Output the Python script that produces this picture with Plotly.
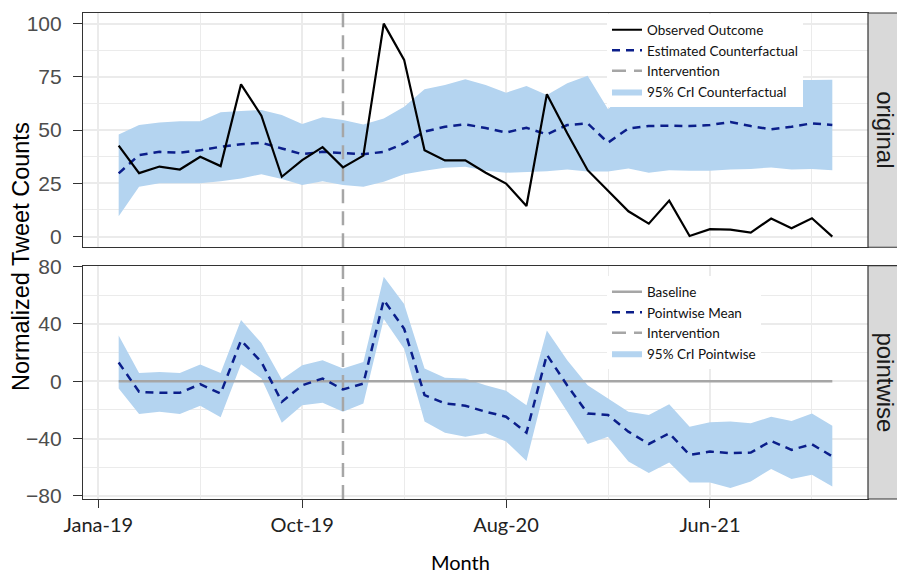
import plotly.graph_objects as go

# ---------------- data ----------------
months = list(range(1, 37))  # month index (0 = Jan 2019 tick)
tick_vals = [0, 10, 20, 30]
tick_text = ["Jana-19", "Oct-19", "Aug-20", "Jun-21"]
intervention = 12

observed = [42.7, 29.8, 32.9, 31.5, 37.5, 33.1, 71.5, 56.8, 28.1, 35.9, 42.0, 32.5,
            38.0, 100.0, 83.0, 40.6, 35.8, 35.8, 30.0, 24.9, 14.4, 66.9, 48.5, 31.2,
            21.5, 11.9, 6.1, 16.9, 0.3, 3.5, 3.3, 1.9, 8.5, 3.9, 8.6, 0.0]
counterfactual = [29.7, 38.3, 39.8, 39.4, 40.5, 42.2, 43.4, 44.1, 41.4, 38.7, 39.8, 39.1,
                  38.7, 39.8, 43.8, 49.3, 51.6, 52.7, 51.0, 48.9, 51.1, 48.0, 52.4, 53.2,
                  44.1, 50.8, 51.9, 52.1, 51.9, 52.4, 53.8, 51.9, 50.4, 51.6, 53.2, 52.4]
cf_upper = [48.0, 52.4, 53.6, 54.2, 54.2, 58.4, 59.0, 59.4, 57.1, 52.9, 56.0, 54.8,
            52.7, 55.5, 61.0, 69.2, 71.2, 73.9, 71.2, 67.6, 70.7, 66.5, 72.0, 75.5,
            59.8, 68.9, 72.0, 72.5, 73.0, 72.5, 73.0, 72.5, 73.0, 73.5, 73.5, 73.6]
cf_lower = [9.6, 23.4, 25.0, 25.0, 25.0, 26.0, 27.3, 29.3, 27.0, 24.2, 26.0, 24.2,
            23.4, 25.7, 29.3, 30.9, 32.3, 32.8, 30.9, 30.0, 30.4, 30.7, 31.5, 30.6,
            30.6, 32.0, 30.0, 31.2, 30.9, 30.9, 31.5, 31.8, 32.5, 31.5, 31.8, 31.2]

pointwise = [13.0, -7.4, -8.1, -8.1, -2.1, -8.6, 28.5, 13.4, -14.4, -2.8, 1.9, -5.8,
             -1.6, 56.7, 36.6, -9.7, -15.5, -17.1, -21.3, -24.8, -35.9, 18.5, -3.0, -22.5,
             -23.6, -35.2, -43.8, -36.3, -51.4, -49.1, -50.2, -49.8, -41.7, -47.9, -44.0, -52.5]
pw_upper = [31.9, 5.8, 6.5, 5.8, 11.6, 5.8, 42.8, 26.6, 1.2, 11.1, 14.6, 8.8,
            13.4, 72.9, 53.9, 8.8, 2.5, 1.9, -2.8, -6.7, -16.7, 35.4, 14.6, -2.8,
            -12.0, -21.3, -23.6, -16.0, -31.7, -28.7, -28.2, -29.4, -24.8, -27.8, -22.5, -31.0]
pw_lower = [-5.1, -22.9, -21.3, -22.9, -17.1, -25.2, 11.8, 1.9, -28.9, -16.7, -15.0, -21.3,
            -15.5, 43.5, 22.7, -28.2, -35.9, -38.7, -36.3, -42.1, -55.6, 0.7, -21.3, -43.8,
            -38.7, -56.0, -64.1, -56.7, -70.6, -70.6, -74.5, -69.9, -61.3, -68.3, -65.3, -73.4]
baseline = [0] * len(months)

# ---------------- styles ----------------
NAVY = "#0B1E8A"
GRAY = "#A6A6A6"
BAND = "rgba(180,212,240,1)"
BORDER = "#333333"
GRID = "#EBEBEB"
LEG_FONT = dict(family="Lato, Open Sans, sans-serif", size=13.5, color="#111111")

y1_range = [-5, 105]
y2_range = [-82.2, 80.6]
x_range = [-0.75, 37.75]

fig = go.Figure()

# ---- top panel: original ----
fig.add_trace(go.Scatter(x=months, y=cf_lower, mode="lines", line=dict(width=0),
                         showlegend=False, hoverinfo="skip", xaxis="x", yaxis="y"))
fig.add_trace(go.Scatter(x=months, y=cf_upper, mode="lines", line=dict(width=0),
                         fill="tonexty", fillcolor=BAND, name="95% CrI Counterfactual",
                         legend="legend", legendrank=4, xaxis="x", yaxis="y"))
fig.add_trace(go.Scatter(x=[intervention, intervention], y=y1_range, mode="lines",
                         line=dict(color=GRAY, width=2.5, dash="14px,8px"),
                         name="Intervention", legend="legend", legendrank=3,
                         xaxis="x", yaxis="y"))
fig.add_trace(go.Scatter(x=months, y=counterfactual, mode="lines",
                         line=dict(color=NAVY, width=2.5, dash="8px,6px"),
                         name="Estimated Counterfactual", legend="legend", legendrank=2,
                         xaxis="x", yaxis="y"))
fig.add_trace(go.Scatter(x=months, y=observed, mode="lines",
                         line=dict(color="black", width=2.2),
                         name="Observed Outcome", legend="legend", legendrank=1,
                         xaxis="x", yaxis="y"))

# ---- bottom panel: pointwise ----
fig.add_trace(go.Scatter(x=months, y=pw_lower, mode="lines", line=dict(width=0),
                         showlegend=False, hoverinfo="skip", xaxis="x2", yaxis="y2"))
fig.add_trace(go.Scatter(x=months, y=pw_upper, mode="lines", line=dict(width=0),
                         fill="tonexty", fillcolor=BAND, name="95% CrI Pointwise",
                         legend="legend2", legendrank=4, xaxis="x2", yaxis="y2"))
fig.add_trace(go.Scatter(x=months, y=baseline, mode="lines",
                         line=dict(color=GRAY, width=2.5),
                         name="Baseline", legend="legend2", legendrank=1,
                         xaxis="x2", yaxis="y2"))
fig.add_trace(go.Scatter(x=[intervention, intervention], y=y2_range, mode="lines",
                         line=dict(color=GRAY, width=2.5, dash="14px,8px"),
                         name="Intervention", legend="legend2", legendrank=3,
                         xaxis="x2", yaxis="y2"))
fig.add_trace(go.Scatter(x=months, y=pointwise, mode="lines",
                         line=dict(color=NAVY, width=2.5, dash="8px,6px"),
                         name="Pointwise Mean", legend="legend2", legendrank=2,
                         xaxis="x2", yaxis="y2"))

# ---------------- layout ----------------
top_dom = [0.518, 1.0]
bot_dom = [0.0, 0.480]

axis_common = dict(showline=True, linecolor=BORDER, linewidth=1.2, mirror=True,
                   showgrid=True, gridcolor=GRID, gridwidth=1.6, zeroline=False)
ytick_font = dict(family="Liberation Sans, Arial, sans-serif", size=21, color="#4D4D4D")
ytick_common = dict(ticks="outside", ticklen=9, tickcolor=BORDER, tickwidth=1.2,
                    ticklabelstandoff=7)
xtick_common = dict(ticks="outside", ticklen=8, tickcolor=BORDER, tickwidth=1.2)

fig.update_layout(
    width=905, height=573,
    # page body adds an 8px offset; margins compensate so the panels land where wanted
    margin=dict(l=75, r=45, t=5, b=82, autoexpand=False),
    paper_bgcolor="white", plot_bgcolor="white",
    xaxis=dict(domain=[0, 1], anchor="y", range=x_range, tickvals=tick_vals,
               showticklabels=False, ticks="",
               minor=dict(dtick=5, tick0=0, showgrid=True, gridcolor=GRID, gridwidth=1),
               **axis_common),
    yaxis=dict(domain=top_dom, anchor="x", range=y1_range, tickvals=[0, 25, 50, 75, 100],
               tickfont=ytick_font,
               minor=dict(dtick=12.5, tick0=0, showgrid=True, gridcolor=GRID, gridwidth=1),
               **ytick_common, **axis_common),
    xaxis2=dict(domain=[0, 1], anchor="y2", range=x_range, tickvals=tick_vals,
                ticktext=tick_text,
                tickfont=dict(family="Lato, Open Sans, sans-serif", size=20, color="#222222"),
                minor=dict(dtick=5, tick0=0, showgrid=True, gridcolor=GRID, gridwidth=1),
                **xtick_common, **axis_common),
    yaxis2=dict(domain=bot_dom, anchor="x2", range=y2_range,
                tickvals=[-80, -40, 0, 40, 80],
                tickfont=ytick_font,
                minor=dict(dtick=20, tick0=0, showgrid=True, gridcolor=GRID, gridwidth=1),
                **ytick_common, **axis_common),
    legend=dict(x=0.6675, y=0.997, xanchor="left", yanchor="top", bgcolor="white",
                font=LEG_FONT, borderwidth=0, tracegroupgap=0, itemwidth=30,
                traceorder="normal"),
    legend2=dict(x=0.6675, y=0.458, xanchor="left", yanchor="top", bgcolor="white",
                 font=LEG_FONT, borderwidth=0, tracegroupgap=0, itemwidth=30,
                 traceorder="normal"),
    showlegend=True,
)

# facet strips on the right
for dom, label in [(top_dom, "original"), (bot_dom, "pointwise")]:
    fig.add_shape(type="rect", xref="paper", yref="paper", x0=1.0, x1=1.07,
                  y0=dom[0], y1=dom[1], fillcolor="#D9D9D9",
                  line=dict(color=BORDER, width=1.2), layer="above")
    fig.add_annotation(xref="paper", yref="paper", x=1.0229, y=(dom[0] + dom[1]) / 2,
                       text=label, textangle=90, showarrow=False,
                       font=dict(family="Liberation Sans, Arial, sans-serif", size=24,
                                 color="#1A1A1A"),
                       xanchor="center", yanchor="middle")

# axis titles
fig.add_annotation(xref="paper", yref="paper", x=-0.0790, y=0.5,
                   text="Normalized Tweet Counts", textangle=-90, showarrow=False,
                   font=dict(family="Liberation Sans, Arial, sans-serif", size=23.5,
                             color="black"),
                   xanchor="center", yanchor="middle")
fig.add_annotation(xref="paper", yref="paper", x=0.4815, y=-0.13,
                   text="Month", showarrow=False,
                   font=dict(family="Lato, Open Sans, sans-serif", size=20, color="black"),
                   xanchor="center", yanchor="middle")

fig.write_html("out.html")
